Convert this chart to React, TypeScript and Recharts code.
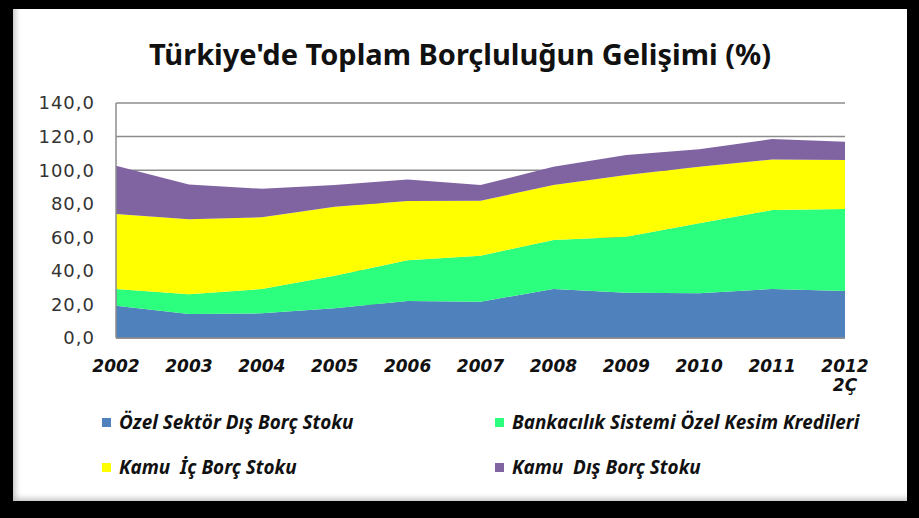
import { AreaChart, Area, XAxis, YAxis, CartesianGrid } from "recharts";

const YEARS = ["2002", "2003", "2004", "2005", "2006", "2007", "2008", "2009", "2010", "2011", "2012\n2Ç"];

// stacked from bottom to top
const OZEL_DIS = [19.2, 14.3, 14.7, 17.7, 22.0, 21.6, 29.2, 27.0, 26.6, 29.2, 28.0];
const BANKA_KREDI = [10.0, 11.7, 14.5, 19.4, 24.3, 27.4, 29.2, 33.3, 41.7, 47.0, 48.8];
const KAMU_IC = [44.7, 44.7, 42.7, 41.1, 35.3, 32.8, 32.7, 36.8, 33.7, 30.2, 29.2];
const KAMU_DIS = [28.7, 20.8, 17.0, 12.9, 12.9, 9.3, 10.9, 11.9, 10.4, 12.1, 10.9];

const Y_TICKS = [0, 20, 40, 60, 80, 100, 120, 140];

const SERIES = [
  { key: "ozel", name: "Özel Sektör Dış Borç Stoku", color: "#4F81BD", values: OZEL_DIS },
  { key: "banka", name: "Bankacılık Sistemi Özel Kesim Kredileri", color: "#2BFF7D", values: BANKA_KREDI },
  { key: "kamuIc", name: "Kamu  İç Borç Stoku", color: "#FFFF00", values: KAMU_IC },
  { key: "kamuDis", name: "Kamu  Dış Borç Stoku", color: "#8064A2", values: KAMU_DIS },
];

const data = YEARS.map((year, i) => {
  const row: Record<string, string | number> = { year };
  SERIES.forEach((s) => (row[s.key] = s.values[i]));
  return row;
});

const LABEL_FONT = "'Noto Sans', sans-serif";

function XTick(props: any) {
  const { x, y, payload } = props;
  const lines = String(payload.value).split("\n");
  return (
    <text
      x={x}
      y={y}
      textAnchor="middle"
      fill="#111"
      fontFamily="'DejaVu Sans', sans-serif"
      fontSize={17}
      fontWeight="bold"
      fontStyle="italic"
    >
      {lines.map((l, i) => (
        <tspan key={i} x={x} dy={i === 0 ? 34 : 19}>
          {l}
        </tspan>
      ))}
    </text>
  );
}

function LegendBox() {
  // two columns, row-wise
  const cols = [102, 495];
  const rows = [423, 468];
  return (
    <>
      {SERIES.map((s, i) => (
        <div
          key={s.key}
          style={{
            position: "absolute",
            left: cols[i % 2],
            top: rows[Math.floor(i / 2)] - 14,
            display: "flex",
            alignItems: "center",
            whiteSpace: "pre",
            fontFamily: LABEL_FONT,
            fontWeight: "bold",
            fontStyle: "italic",
            fontSize: 18.9,
            color: "#111",
          }}
        >
          <span style={{ display: "inline-block", width: 9, height: 9, background: s.color, marginRight: 8 }} />
          {s.name}
        </div>
      ))}
    </>
  );
}

export default function App() {
  return (
    <div style={{ position: "absolute", left: 0, top: 0, width: 919, height: 518, background: "#000" }}>
      <div
        style={{
          position: "absolute",
          left: 13,
          top: 9,
          width: 894,
          height: 492,
          background: "#fff",
          boxShadow: "inset 5px -5px 6px -3px #bbb",
        }}
      />
      <div
        style={{
          position: "absolute",
          left: 13,
          top: 34,
          width: 894,
          textAlign: "center",
          fontFamily: LABEL_FONT,
          fontWeight: "bold",
          fontSize: 29,
          color: "#111",
        }}
      >
        Türkiye'de Toplam Borçluluğun Gelişimi (%)
      </div>
      <div style={{ position: "absolute", left: 0, top: 0 }}>
        <AreaChart width={919} height={518} data={data} margin={{ top: 103, right: 74, bottom: 130, left: 0 }}>
          <CartesianGrid vertical={false} stroke="#8c8c8c" strokeWidth={1.5} />
          <XAxis
            dataKey="year"
            tick={<XTick />}
            tickLine={false}
            tickSize={0}
            tickMargin={0}
            interval={0}
            height={50}
            axisLine={{ stroke: "#8c8c8c", strokeWidth: 1.5 }}
          />
          <YAxis
            domain={[0, 140]}
            ticks={Y_TICKS}
            interval={0}
            width={116}
            tickLine={false}
            tickSize={0}
            tickMargin={21}
            tickFormatter={(v: number) => v.toFixed(1).replace(".", ",")}
            tick={{ fill: "#333", fontSize: 18, letterSpacing: 1, fontFamily: "'DejaVu Sans', sans-serif" }}
            axisLine={{ stroke: "#8c8c8c", strokeWidth: 1.5 }}
          />
          {SERIES.map((s) => (
            <Area
              key={s.key}
              type="linear"
              dataKey={s.key}
              name={s.name}
              stackId="1"
              stroke="none"
              fill={s.color}
              fillOpacity={1}
              isAnimationActive={false}
            />
          ))}
        </AreaChart>
      </div>
      <LegendBox />
    </div>
  );
}
